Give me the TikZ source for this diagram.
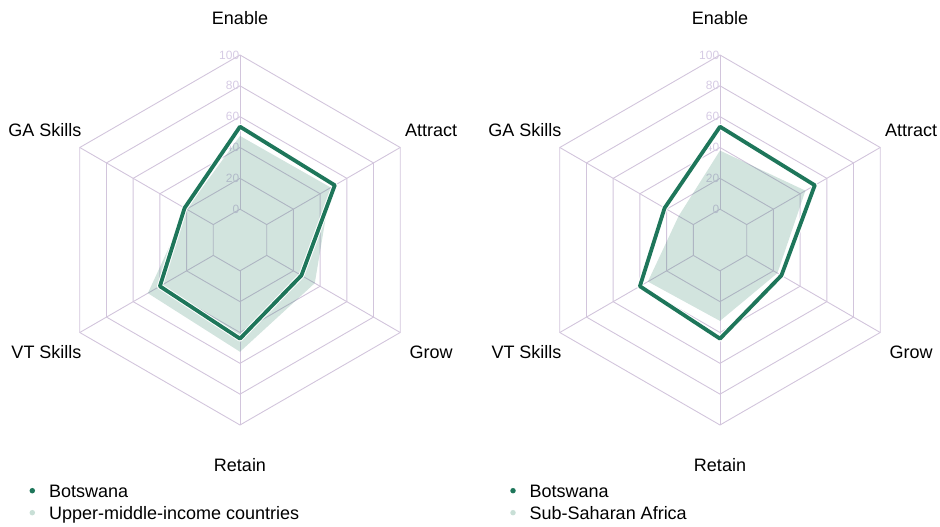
\documentclass[tikz,border=0pt]{standalone}
\usepackage{fontspec}
\setmainfont{Liberation Sans}
\definecolor{botsgreen}{RGB}{30,118,90}
\definecolor{gridlav}{RGB}{210,197,220}
\definecolor{ticklav}{RGB}{214,203,228}
\definecolor{peergreen}{RGB}{200,223,214}
% radar point: angle, score (0..100)
\newcommand{\rpt}[2]{(#1:{(#2+20)*1.5417})}
\tikzset{
	gridline/.style={draw=gridlav, line width=0.9pt},
	ticklbl/.style={text=ticklav, font=\fontsize{12}{14}\selectfont, anchor=east, inner sep=0pt},
	axislbl/.style={font=\fontsize{18}{21}\selectfont, inner sep=0pt},
	botsline/.style={draw=botsgreen, line width=3.8pt, line join=round},
	botshalo/.style={draw=white, line width=5.8pt, line join=round},
	peerfill/.style={fill=botsgreen, fill opacity=0.2},
	legdot/.style={circle, inner sep=0pt, minimum size=5.5pt},
	legtext/.style={font=\fontsize{18}{21}\selectfont, inner sep=0pt, anchor=base west},
}
\begin{document}
\begin{tikzpicture}[x=1pt,y=1pt]
	\useasboundingbox (0,0) rectangle (940,527);
	% left chart: Botswana vs upper-middle-income countries
	\begin{scope}[shift={(240,287)}]
	\foreach \v in {0,20,...,100}
		\draw[gridline] \rpt{90}{\v} -- \rpt{30}{\v} -- \rpt{-30}{\v} -- \rpt{-90}{\v} -- \rpt{-150}{\v} -- \rpt{150}{\v} -- cycle;
	\foreach \a in {90,30,-30,-90,-150,150}
		\draw[gridline] \rpt{\a}{0} -- \rpt{\a}{100};
	\foreach \v in {0,20,...,100}
		\node[ticklbl, xshift=-0.6pt] (tickL\v) at \rpt{90}{\v} {\v};
	\fill[peerfill] \rpt{90}{47.5} -- \rpt{30}{48} -- \rpt{-30}{36} -- \rpt{-90}{52.5} -- \rpt{-150}{49} -- \rpt{150}{20} -- cycle;
	\draw[botshalo] \rpt{90}{53.5} -- \rpt{30}{51} -- \rpt{-30}{26} -- \rpt{-90}{44} -- \rpt{-150}{40} -- \rpt{150}{21.5} -- cycle;
	\draw[botsline] \rpt{90}{53.5} -- \rpt{30}{51} -- \rpt{-30}{26} -- \rpt{-90}{44} -- \rpt{-150}{40} -- \rpt{150}{21.5} -- cycle;
	\node[axislbl, anchor=base] (enableL) at (0,215.6) {Enable};
	\node[axislbl, anchor=base west] (attractL) at (165,103.3) {Attract};
	\node[axislbl, anchor=base west] (growL) at (169.3,-118.8) {Grow};
	\node[axislbl, anchor=base] (retainL) at (0,-231.4) {Retain};
	\node[axislbl, anchor=base east] (vtL) at (-158.3,-118.8) {VT Skills};
	\node[axislbl, anchor=base east] (gaL) at (-158.3,103.3) {GA Skills};
	\end{scope}
	% right chart: Botswana vs Sub-Saharan Africa
	\begin{scope}[shift={(720,287)}]
	\foreach \v in {0,20,...,100}
		\draw[gridline] \rpt{90}{\v} -- \rpt{30}{\v} -- \rpt{-30}{\v} -- \rpt{-90}{\v} -- \rpt{-150}{\v} -- \rpt{150}{\v} -- cycle;
	\foreach \a in {90,30,-30,-90,-150,150}
		\draw[gridline] \rpt{\a}{0} -- \rpt{\a}{100};
	\foreach \v in {0,20,...,100}
		\node[ticklbl, xshift=-0.6pt] (tickR\v) at \rpt{90}{\v} {\v};
	\fill[peerfill] \rpt{90}{38} -- \rpt{30}{44} -- \rpt{-30}{23} -- \rpt{-90}{32.5} -- \rpt{-150}{34} -- \rpt{150}{11} -- cycle;
	\draw[botshalo] \rpt{90}{53.5} -- \rpt{30}{51} -- \rpt{-30}{26} -- \rpt{-90}{44} -- \rpt{-150}{40} -- \rpt{150}{21.5} -- cycle;
	\draw[botsline] \rpt{90}{53.5} -- \rpt{30}{51} -- \rpt{-30}{26} -- \rpt{-90}{44} -- \rpt{-150}{40} -- \rpt{150}{21.5} -- cycle;
	\node[axislbl, anchor=base] (enableR) at (0,215.6) {Enable};
	\node[axislbl, anchor=base west] (attractR) at (165,103.3) {Attract};
	\node[axislbl, anchor=base west] (growR) at (169.3,-118.8) {Grow};
	\node[axislbl, anchor=base] (retainR) at (0,-231.4) {Retain};
	\node[axislbl, anchor=base east] (vtR) at (-158.3,-118.8) {VT Skills};
	\node[axislbl, anchor=base east] (gaR) at (-158.3,103.3) {GA Skills};
	\end{scope}
	% legends
	\node[legdot, fill=botsgreen] (dotL1) at (32.3,36.3) {};
	\node[legtext] (legL1) at (49,29.6) {Botswana};
	\node[legdot, fill=peergreen] (dotL2) at (32.3,14.3) {};
	\node[legtext] (legL2) at (49,7.6) {Upper-middle-income countries};
	\node[legdot, fill=botsgreen] (dotR1) at (513,36.3) {};
	\node[legtext] (legR1) at (529.5,29.6) {Botswana};
	\node[legdot, fill=peergreen] (dotR2) at (513,14.3) {};
	\node[legtext] (legR2) at (529.5,7.6) {Sub-Saharan Africa};
\end{tikzpicture}
\end{document}
